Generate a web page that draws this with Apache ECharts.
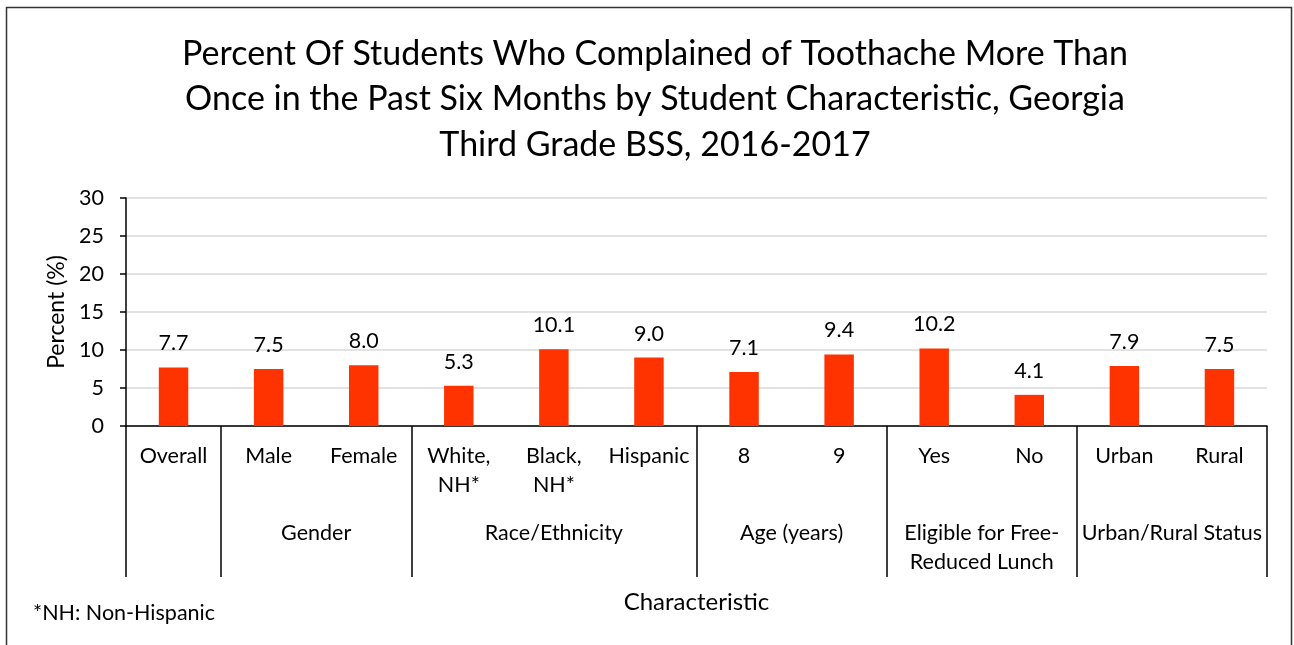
<!DOCTYPE html>
<html>
<head>
<meta charset="utf-8">
<script src="https://cdn.jsdelivr.net/npm/echarts@6/dist/echarts.min.js"></script>
<style>
  html, body { margin: 0; padding: 0; background: #fff; }
  #chart { width: 1294px; height: 645px; }
</style>
</head>
<body>
<div id="chart"></div>
<script>
// Toothache prevalence by student characteristic
const categories = ['Overall', 'Male', 'Female', 'White,\nNH*', 'Black,\nNH*', 'Hispanic', '8', '9', 'Yes', 'No', 'Urban', 'Rural'];
const percentValues = [7.7, 7.5, 8.0, 5.3, 10.1, 9.0, 7.1, 9.4, 10.2, 4.1, 7.9, 7.5];
const groupNames = ['', 'Gender', 'Race/Ethnicity', 'Age (years)', 'Eligible for Free-\nReduced Lunch', 'Urban/Rural Status'];
// Number of categories in each group, in order
const groupSizes = [1, 2, 3, 2, 2, 2];
const yTicks = [0, 5, 10, 15, 20, 25, 30];

// Group boundaries and centres on a 0..N value scale that overlays the category axis
const boundaries = [0];
const centres = [];
groupSizes.forEach(function (n) {
  const start = boundaries[boundaries.length - 1];
  centres.push(start + n / 2);
  boundaries.push(start + n);
});
const groupByCentre = {};
centres.forEach(function (c, i) { groupByCentre[c] = groupNames[i]; });

const FONT = 'Lato';
const LABEL_SIZE = 21.5;
const chart = echarts.init(document.getElementById('chart'), null, { renderer: 'canvas' });

chart.setOption({
  backgroundColor: '#ffffff',
  animation: false,
  textStyle: { fontFamily: FONT, color: '#000' },
  title: {
    text: 'Percent Of Students Who Complained of Toothache More Than\nOnce in the Past Six Months by Student Characteristic, Georgia\nThird Grade BSS, 2016-2017',
    left: 650,
    textAlign: 'center',
    top: 26,
    textStyle: { fontFamily: FONT, fontSize: 34, fontWeight: 'normal', color: '#000', lineHeight: 45.5 }
  },
  grid: { left: 126, right: 27, top: 198, bottom: 219, containLabel: false },
  xAxis: [
    {
      type: 'category',
      data: categories,
      position: 'bottom',
      axisLine: { show: true, lineStyle: { color: '#000', width: 1.5 } },
      axisTick: { show: false },
      axisLabel: {
        interval: 0, margin: 16, fontSize: LABEL_SIZE, lineHeight: 29,
        fontFamily: FONT, color: '#000', verticalAlign: 'top'
      },
      name: 'Characteristic',
      nameLocation: 'middle',
      nameGap: 164,
      nameTextStyle: { fontFamily: FONT, fontSize: 24, color: '#000' }
    },
    {
      // overlay scale for the grouped second level
      type: 'value',
      min: 0,
      max: categories.length,
      position: 'bottom',
      axisLine: { show: false },
      splitLine: { show: false },
      axisTick: {
        show: true, inside: false, length: 151,
        customValues: boundaries,
        lineStyle: { color: '#000', width: 1.5 }
      },
      axisLabel: {
        show: true, margin: 93, fontSize: LABEL_SIZE, lineHeight: 29, fontFamily: FONT,
        color: '#000', verticalAlign: 'top',
        customValues: centres,
        formatter: function (v) { return groupByCentre[v] || ''; }
      }
    }
  ],
  yAxis: {
    type: 'value',
    min: 0, max: 30, interval: 5,
    axisLine: { show: true, lineStyle: { color: '#000', width: 1.5 } },
    axisTick: { show: true, inside: false, length: 6, lineStyle: { color: '#000', width: 1.5 } },
    axisLabel: {
      fontSize: LABEL_SIZE, fontFamily: FONT, color: '#000', margin: 22,
      customValues: yTicks
    },
    splitLine: { show: true, lineStyle: { color: '#d9d9d9', width: 1.5 } },
    name: 'Percent (%)',
    nameLocation: 'middle',
    nameGap: 55,
    nameRotate: 90,
    nameTextStyle: { fontFamily: FONT, fontSize: 23, color: '#000' }
  },
  series: [{
    type: 'bar',
    xAxisIndex: 0,
    data: percentValues,
    barWidth: '31%',
    itemStyle: { color: '#ff3300' },
    label: {
      show: true, position: 'top', distance: 13,
      fontSize: LABEL_SIZE, fontFamily: FONT, color: '#000',
      formatter: function (p) { return p.value.toFixed(1); }
    }
  }],
  graphic: [
    {
      type: 'rect',
      shape: { x: 6.5, y: 7.5, width: 1285, height: 660 },
      style: { fill: null, stroke: '#333', lineWidth: 1.5 },
      silent: true
    },
    {
      type: 'text',
      left: 33, top: 602,
      style: { text: '*NH: Non-Hispanic', fontFamily: FONT, fontSize: LABEL_SIZE, fill: '#000' }
    }
  ]
});
</script>
</body>
</html>
